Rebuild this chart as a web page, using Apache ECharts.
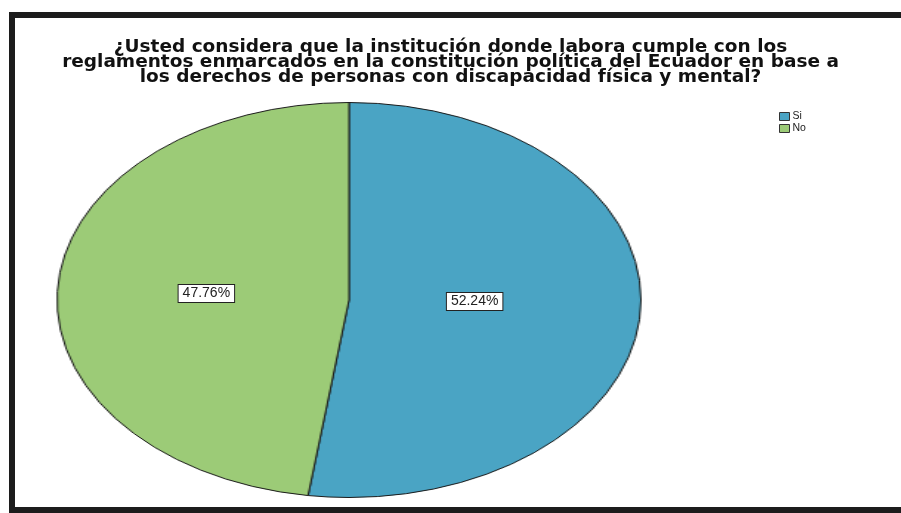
<!DOCTYPE html>
<html>
<head>
<meta charset="utf-8">
<script src="https://cdn.jsdelivr.net/npm/echarts@6/dist/echarts.min.js"></script>
<style>
  html, body { margin: 0; padding: 0; background: #ffffff; }
  #wrap { position: relative; width: 901px; height: 513px; overflow: hidden; }
  #pie { position: absolute; left: 149px; top: 100px; width: 400px; height: 400px;
         transform: scaleX(1.478); transform-origin: 200px 200px; }
  #top { position: absolute; left: 0; top: 0; width: 901px; height: 513px; }
</style>
</head>
<body>
<div id="wrap">
  <div id="pie"></div>
  <div id="top"></div>
</div>
<script>
const titleLines = [
  '¿Usted considera que la institución donde labora cumple con los',
  'reglamentos enmarcados en la constitución política del Ecuador en base a',
  'los derechos de personas con discapacidad física y mental?'
];
const categories = ['Si', 'No'];
const percents = [52.24, 47.76];
const colors = ['#4aa4c4', '#9ccb77'];

const pieData = categories.map((c, i) => ({ name: c, value: percents[i] }));

// Elliptical pie: circular pie stretched horizontally via CSS
const pieChart = echarts.init(document.getElementById('pie'), null, { renderer: 'canvas' });
pieChart.setOption({
  animation: false,
  color: colors,
  series: [{
    type: 'pie',
    center: [200, 200],
    radius: 197.5,
    startAngle: 90,
    clockwise: true,
    silent: true,
    label: { show: false },
    labelLine: { show: false },
    itemStyle: { borderColor: '#1a1a1a', borderWidth: 1 },
    data: pieData
  }]
});

// Overlay: title, legend, frame and percentage labels
const topChart = echarts.init(document.getElementById('top'), null, { renderer: 'canvas' });
topChart.setOption({
  animation: false,
  color: colors,
  title: {
    text: titleLines.join('\n'),
    left: 'center',
    top: 35,
    textStyle: {
      fontFamily: 'DejaVu Sans, sans-serif',
      fontWeight: 'bold',
      fontSize: 18.5,
      lineHeight: 15,
      color: '#111'
    }
  },
  legend: {
    orient: 'vertical',
    left: 779,
    top: 111,
    padding: 0,
    itemWidth: 10,
    itemHeight: 8,
    itemGap: 1,
    icon: 'rect',
    selectedMode: false,
    textStyle: { fontFamily: 'Liberation Sans, Arial, sans-serif', fontSize: 10.5, color: '#222', padding: [0, 0, 0, -2] },
    data: categories.map((c, i) => ({
      name: c,
      itemStyle: { color: colors[i], opacity: 1, borderColor: '#333', borderWidth: 1 }
    }))
  },
  graphic: [{
    type: 'rect',
    shape: { x: 12, y: 15, width: 960, height: 495 },
    style: { fill: 'none', stroke: '#1c1c1c', lineWidth: 6 },
    silent: true
  }],
  series: [{
    type: 'pie',
    center: [349, 299.5],
    radius: 280,
    startAngle: 90,
    clockwise: true,
    silent: true,
    itemStyle: { opacity: 0 },
    labelLine: { show: false },
    label: {
      show: true,
      position: 'inside',
      formatter: p => p.value.toFixed(2) + '%',
      fontFamily: 'Liberation Sans, Arial, sans-serif',
      fontSize: 14,
      color: '#222',
      backgroundColor: '#ffffff',
      borderColor: '#222',
      borderWidth: 1,
      padding: [2, 4, 1, 4],
      opacity: 1
    },
    labelLayout: p => (p.dataIndex === 0 ? { dx: -17, dy: -8 } : { dy: 4 }),
    data: pieData
  }]
});
</script>
</body>
</html>
